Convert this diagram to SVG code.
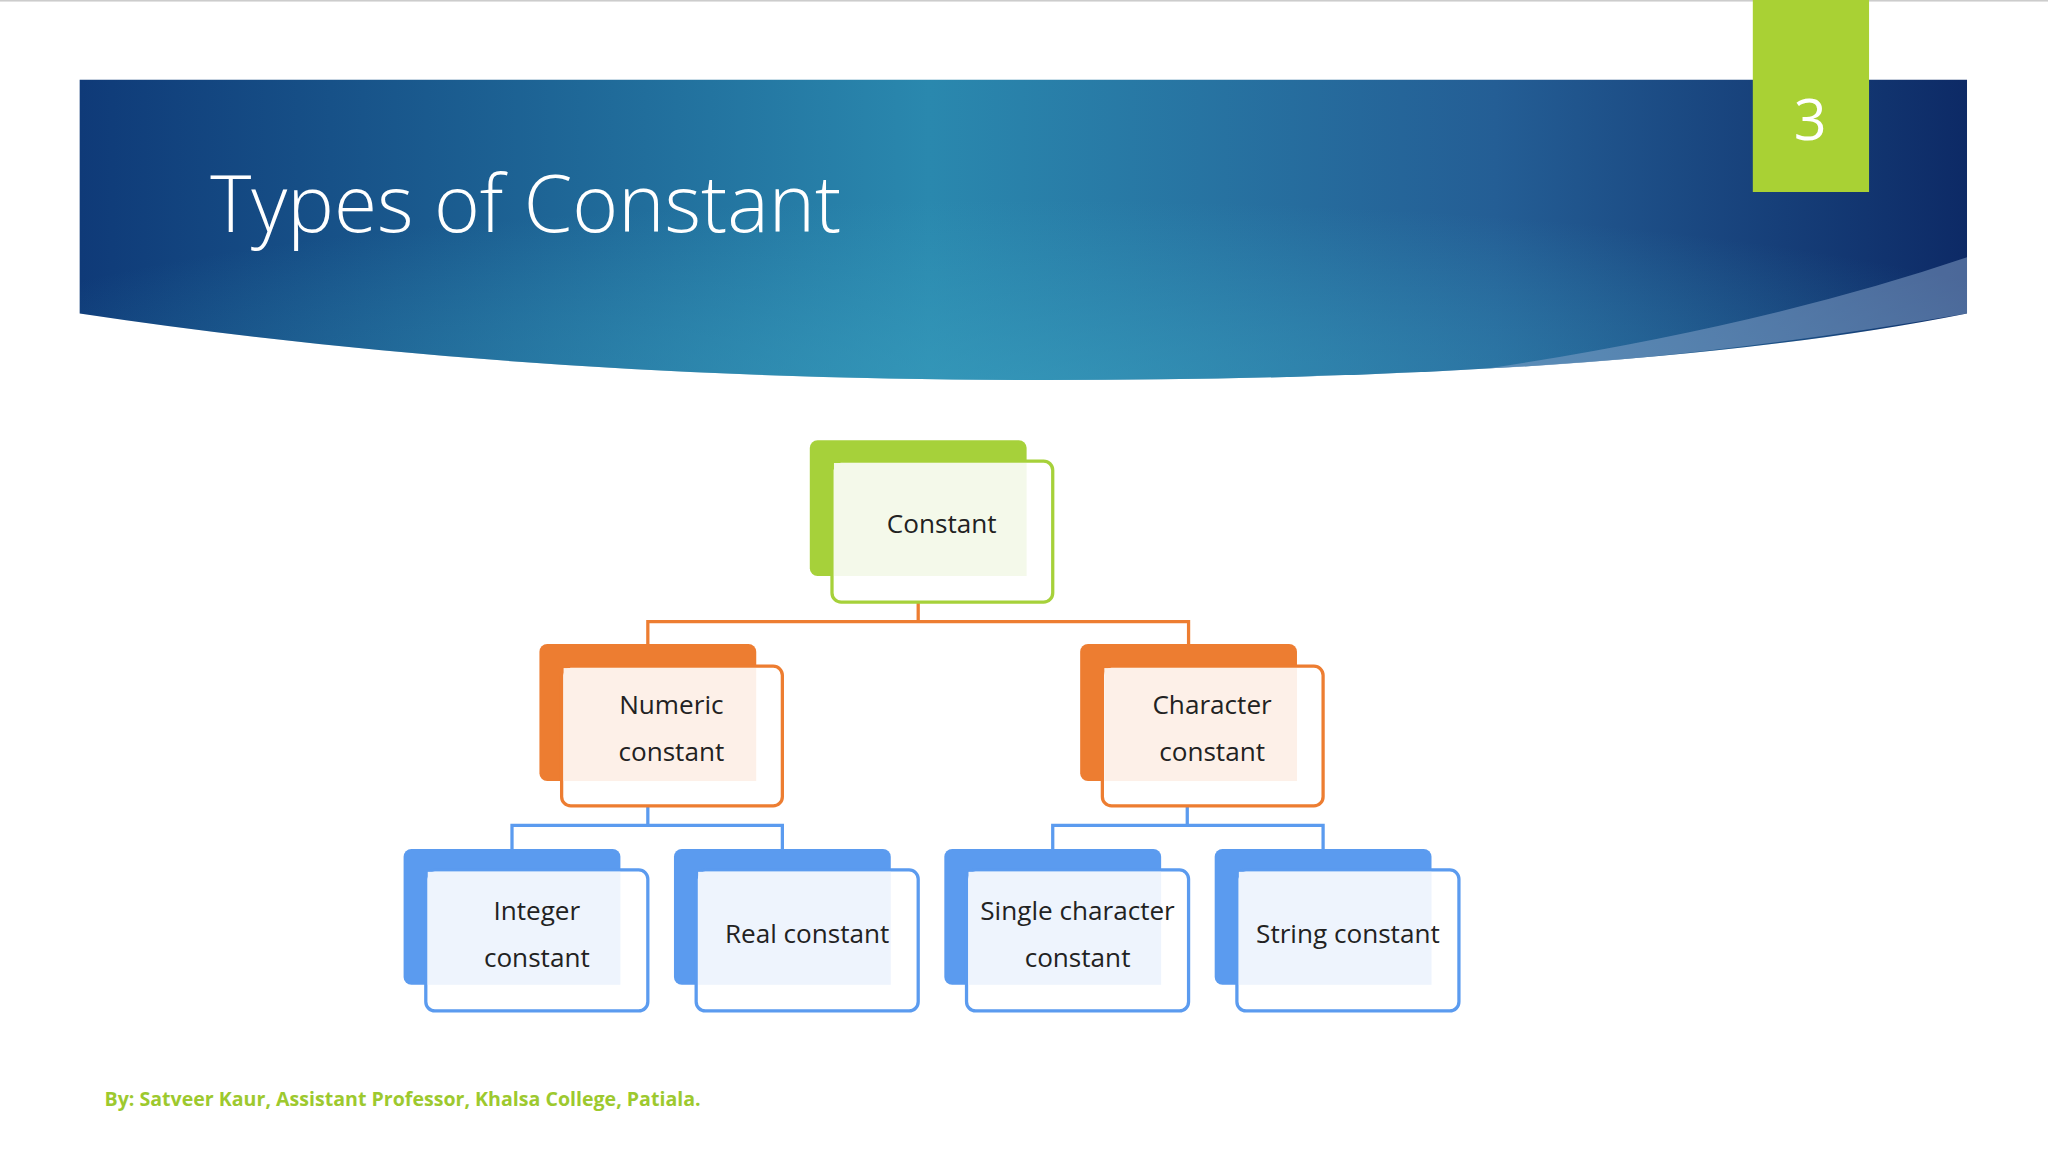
<svg xmlns="http://www.w3.org/2000/svg" width="2048" height="1152" viewBox="0 0 2048 1152">
<defs>
<linearGradient id="bg" x1="0" y1="0" x2="1" y2="0">
<stop offset="0" stop-color="#0f3a78"/>
<stop offset="0.45" stop-color="#2a88ae"/>
<stop offset="0.75" stop-color="#245e95"/>
<stop offset="1" stop-color="#0d2a66"/>
</linearGradient>
<radialGradient id="glow" cx="0.5" cy="1" r="0.6">
<stop offset="0" stop-color="#3aa0bf" stop-opacity="0.6"/>
<stop offset="1" stop-color="#3aa0bf" stop-opacity="0"/>
</radialGradient>
<style>
.t{font-family:"Open Sans","Noto Sans",sans-serif;font-size:20px;fill:#222;text-anchor:middle}
.g{fill:#A6D13A}.gf{fill:#fff;stroke:#A6D13A;stroke-width:2.5}.gt{fill:#F4F9EA}
.o{fill:#ED7D31}.of{fill:#fff;stroke:#ED7D31;stroke-width:2.5}.ot{fill:#FDF0E8}
.b{fill:#5B9BEF}.bf{fill:#fff;stroke:#5B9BEF;stroke-width:2.5}.bt{fill:#EEF4FD}
.co{fill:none;stroke:#ED7D31;stroke-width:2.5}.cb{fill:none;stroke:#5B9BEF;stroke-width:2.5}
</style>
</defs>
<rect width="2048" height="1152" fill="#fff"/>
<g transform="scale(1.30612)">
<rect x="0" y="0" width="1568" height="1.2" fill="#ccc"/>
<path d="M61 61 H1506 V240 Q1250 291 800 291 Q400 291 61 240 Z" fill="url(#bg)"/>
<path d="M61 61 H1506 V240 Q1250 291 800 291 Q400 291 61 240 Z" fill="url(#glow)"/>
<path d="M1140 282 Q1350 250 1506 197 V240 Q1300 275 1140 282 Z" fill="#8aa6cc" opacity="0.5"/>
<rect x="1342" y="0" width="89" height="147" fill="#A9D134"/>
<text x="1386" y="107" font-family="Open Sans,Noto Sans,sans-serif" font-size="44" fill="#fff" text-anchor="middle">3</text>
<text x="161" y="178" font-family="Open Sans,Noto Sans,sans-serif" font-size="60" fill="#fff" font-weight="300">Types of Constant</text>
<g id="connectors">
<path class="co" d="M703 461 V476 M496 493 V476 H910 V493"/>
<path class="cb" d="M496 617 V632 M392 650 V632 H599 V650"/>
<path class="cb" d="M909 617 V632 M806 650 V632 H1013 V650"/>
</g>
<g id="n-constant"><rect class="g" x="620" y="337" width="166" height="104" rx="6"/><rect class="gf" x="637" y="353" width="169" height="108" rx="7"/><rect class="gt" x="638.5" y="354.5" width="147.5" height="86.5"/><text class="t" x="721" y="408">Constant</text></g>
<g id="n-numeric"><rect class="o" x="413" y="493" width="166" height="105" rx="6"/><rect class="of" x="430" y="510" width="169" height="107" rx="7"/><rect class="ot" x="431.5" y="511.5" width="147.5" height="86.5"/><text class="t" x="514" y="547">Numeric</text><text class="t" x="514" y="583">constant</text></g>
<g id="n-character"><rect class="o" x="827" y="493" width="166" height="105" rx="6"/><rect class="of" x="844" y="510" width="169" height="107" rx="7"/><rect class="ot" x="845.5" y="511.5" width="147.5" height="86.5"/><text class="t" x="928" y="547">Character</text><text class="t" x="928" y="583">constant</text></g>
<g id="n-integer"><rect class="b" x="309" y="650" width="166" height="104" rx="6"/><rect class="bf" x="326" y="666" width="170" height="108" rx="7"/><rect class="bt" x="327.5" y="667.5" width="147.5" height="86.5"/><text class="t" x="411" y="704">Integer</text><text class="t" x="411" y="740">constant</text></g>
<g id="n-real"><rect class="b" x="516" y="650" width="166" height="104" rx="6"/><rect class="bf" x="533" y="666" width="170" height="108" rx="7"/><rect class="bt" x="534.5" y="667.5" width="147.5" height="86.5"/><text class="t" x="618" y="722">Real constant</text></g>
<g id="n-single"><rect class="b" x="723" y="650" width="166" height="104" rx="6"/><rect class="bf" x="740" y="666" width="170" height="108" rx="7"/><rect class="bt" x="741.5" y="667.5" width="147.5" height="86.5"/><text class="t" x="825" y="704">Single character</text><text class="t" x="825" y="740">constant</text></g>
<g id="n-string"><rect class="b" x="930" y="650" width="166" height="104" rx="6"/><rect class="bf" x="947" y="666" width="170" height="108" rx="7"/><rect class="bt" x="948.5" y="667.5" width="147.5" height="86.5"/><text class="t" x="1032" y="722">String constant</text></g>
<text x="80" y="847" font-family="Open Sans,Noto Sans,sans-serif" font-size="15" font-weight="bold" fill="#9DC92E">By: Satveer Kaur, Assistant Professor, Khalsa College, Patiala.</text>
</g>
</svg>
